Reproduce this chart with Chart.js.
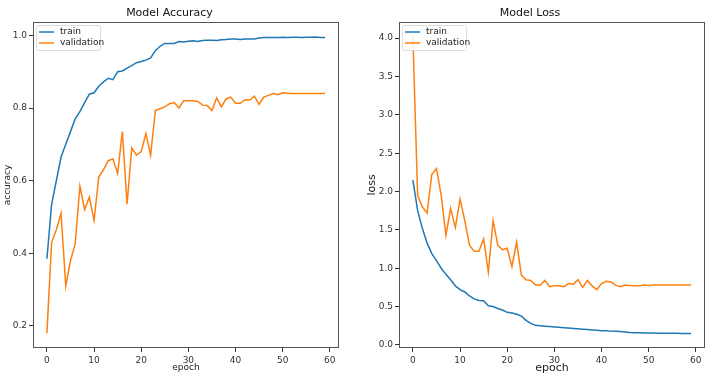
<!DOCTYPE html>
<html>
<head>
<meta charset="utf-8">
<script src="https://cdn.jsdelivr.net/npm/chart.js@4/dist/chart.umd.min.js"></script>
<style>
  body { margin: 0; background: #fff; width: 713px; height: 392px; overflow: hidden; position: relative; }
  .box { position: absolute; top: 0; height: 392px; }
  #accBox { left: 0; width: 345px; }
  #lossBox { left: 355px; width: 358px; }
</style>
</head>
<body>
<div class="box" id="accBox"><canvas id="accuracyChart"></canvas></div>
<div class="box" id="lossBox"><canvas id="lossChart"></canvas></div>
<script>
// Training history (60 epochs)
const epochs = Array.from({ length: 60 }, (_, i) => i);

const trainAcc = [0.385, 0.535, 0.600, 0.665, 0.700, 0.735, 0.770, 0.790, 0.815, 0.838,
                  0.842, 0.860, 0.872, 0.882, 0.878, 0.900, 0.902, 0.910, 0.917, 0.925,
                  0.928, 0.932, 0.938, 0.958, 0.970, 0.978, 0.978, 0.978, 0.983, 0.982,
                  0.984, 0.985, 0.983, 0.986, 0.987, 0.987, 0.986, 0.988, 0.989, 0.990,
                  0.990, 0.989, 0.990, 0.990, 0.990, 0.993, 0.994, 0.994, 0.994, 0.994,
                  0.995, 0.994, 0.995, 0.995, 0.994, 0.995, 0.995, 0.996, 0.994, 0.994];
const valAcc = [0.180, 0.430, 0.465, 0.510, 0.310, 0.380, 0.425, 0.585, 0.520, 0.555,
                0.490, 0.610, 0.630, 0.655, 0.660, 0.620, 0.735, 0.535, 0.690, 0.670,
                0.680, 0.730, 0.670, 0.793, 0.798, 0.803, 0.812, 0.815, 0.800, 0.820,
                0.820, 0.820, 0.818, 0.808, 0.807, 0.793, 0.828, 0.803, 0.825, 0.830,
                0.813, 0.813, 0.823, 0.822, 0.833, 0.810, 0.830, 0.835, 0.840, 0.837,
                0.842, 0.841, 0.840, 0.840, 0.840, 0.840, 0.840, 0.840, 0.840, 0.840];

const trainLoss = [2.15, 1.75, 1.52, 1.33, 1.19, 1.10, 1.00, 0.92, 0.85, 0.77,
                   0.72, 0.69, 0.64, 0.60, 0.58, 0.575, 0.51, 0.50, 0.475, 0.455,
                   0.425, 0.415, 0.40, 0.375, 0.32, 0.28, 0.255, 0.25, 0.245, 0.24,
                   0.235, 0.23, 0.225, 0.22, 0.215, 0.21, 0.205, 0.20, 0.195, 0.19,
                   0.185, 0.185, 0.18, 0.178, 0.175, 0.17, 0.163, 0.16, 0.158, 0.157,
                   0.155, 0.154, 0.153, 0.152, 0.152, 0.151, 0.151, 0.150, 0.150, 0.150];
const valLoss = [4.02, 1.95, 1.80, 1.72, 2.22, 2.30, 1.95, 1.43, 1.78, 1.53,
                 1.90, 1.62, 1.30, 1.22, 1.22, 1.38, 0.95, 1.62, 1.30, 1.24,
                 1.26, 1.02, 1.34, 0.91, 0.85, 0.84, 0.78, 0.78, 0.84, 0.76,
                 0.77, 0.77, 0.76, 0.80, 0.79, 0.85, 0.75, 0.84, 0.77, 0.72,
                 0.80, 0.83, 0.82, 0.78, 0.76, 0.78, 0.775, 0.77, 0.77, 0.78,
                 0.775, 0.78, 0.78, 0.78, 0.78, 0.78, 0.78, 0.78, 0.78, 0.78];

const xTicks = [0, 10, 20, 30, 40, 50, 60];
const accTicks = [0.2, 0.4, 0.6, 0.8, 1.0];
const lossTicks = [0.0, 0.5, 1.0, 1.5, 2.0, 2.5, 3.0, 3.5, 4.0];
const seriesNames = ['train', 'validation'];

const BLUE = '#1f77b4';
const ORANGE = '#ff7f0e';
const FONT = 'DejaVu Sans';

Chart.defaults.font.family = FONT;
Chart.defaults.color = '#333';

// frame around the plot area + matplotlib style legend box
const framePlugin = {
    id: 'frame',
    afterDraw(chart) {
        const { ctx, chartArea: a } = chart;
        ctx.save();
        ctx.strokeStyle = '#555';
        ctx.lineWidth = 1;
        ctx.strokeRect(a.left + 0.5, a.top + 0.5, a.right - a.left - 1, a.bottom - a.top - 1);

        // legend
        const x0 = a.left + 3, y0 = a.top + 3, w = 64, h = 25;
        ctx.fillStyle = 'rgba(255,255,255,0.85)';
        ctx.strokeStyle = '#ddd';
        ctx.beginPath();
        ctx.roundRect(x0 + 0.5, y0 + 0.5, w, h, 2);
        ctx.fill();
        ctx.stroke();
        ctx.font = '9px ' + FONT;
        ctx.textBaseline = 'middle';
        chart.data.datasets.forEach((ds, i) => {
            const y = y0 + 7 + i * 11;
            ctx.strokeStyle = ds.borderColor;
            ctx.lineWidth = 1.5;
            ctx.beginPath();
            ctx.moveTo(x0 + 3, y);
            ctx.lineTo(x0 + 18, y);
            ctx.stroke();
            ctx.fillStyle = '#222';
            ctx.fillText(ds.label, x0 + 24, y);
        });
        ctx.restore();
    }
};

function makeChart(id, opts) {
    const el = document.getElementById(id);
    const existingChart = Chart.getChart(el);
    if (existingChart) existingChart.destroy();
    return new Chart(el.getContext('2d'), {
        type: 'line',
        data: {
            datasets: [
                { label: seriesNames[0], data: epochs.map((e, i) => ({ x: e, y: opts.train[i] })), borderColor: BLUE, borderWidth: 1.5 },
                { label: seriesNames[1], data: epochs.map((e, i) => ({ x: e, y: opts.val[i] })), borderColor: ORANGE, borderWidth: 1.5 }
            ]
        },
        options: {
            responsive: true,
            maintainAspectRatio: false,
            animation: false,
            elements: { point: { radius: 0 }, line: { tension: 0 } },
            layout: { padding: { left: 0, right: opts.rightPad, top: 0, bottom: 17 } },
            plugins: {
                legend: { display: false },
                tooltip: { enabled: false },
                title: {
                    display: true,
                    text: opts.title,
                    color: '#111',
                    font: { size: 11, weight: 'normal' },
                    padding: { top: 7, bottom: 1.8 }
                }
            },
            scales: {
                x: {
                    type: 'linear',
                    min: -2.95, max: 61.95,
                    afterBuildTicks: s => { s.ticks = xTicks.map(v => ({ value: v })); },
                    afterFit: s => { s.height = 27; },
                    grid: { drawOnChartArea: false, tickLength: 4, tickColor: '#333' },
                    border: { display: false },
                    ticks: { font: { size: 9 }, padding: 3, maxRotation: 0 },
                    title: { display: true, text: 'epoch', font: { size: opts.labelSize }, padding: { top: 0, bottom: opts.xTitleBottom }, color: '#222' }
                },
                y: {
                    min: opts.yMin, max: opts.yMax,
                    afterBuildTicks: s => { s.ticks = opts.yTicks.map(v => ({ value: v })); },
                    afterFit: s => { s.width = opts.yWidth; },
                    grid: { drawOnChartArea: false, tickLength: 4, tickColor: '#333' },
                    border: { display: false },
                    ticks: { font: { size: 9 }, padding: 2, callback: v => v.toFixed(1) },
                    title: { display: true, text: opts.yLabel, font: { size: opts.labelSize }, padding: { top: opts.yTitlePad, bottom: 0 }, color: '#222' }
                }
            }
        },
        plugins: [framePlugin]
    });
}

makeChart('accuracyChart', {
    title: 'Model Accuracy', train: trainAcc, val: valAcc,
    yMin: 0.139, yMax: 1.037, yTicks: accTicks, yLabel: 'accuracy',
    yWidth: 33, rightPad: 6, labelSize: 9, yTitlePad: 2.6, xTitleBottom: 2
});
makeChart('lossChart', {
    title: 'Model Loss', train: trainLoss, val: valLoss,
    yMin: -0.04, yMax: 4.21, yTicks: lossTicks, yLabel: 'loss',
    yWidth: 44, rightPad: 8, labelSize: 11, yTitlePad: 11, xTitleBottom: 0
});
</script>
</body>
</html>
